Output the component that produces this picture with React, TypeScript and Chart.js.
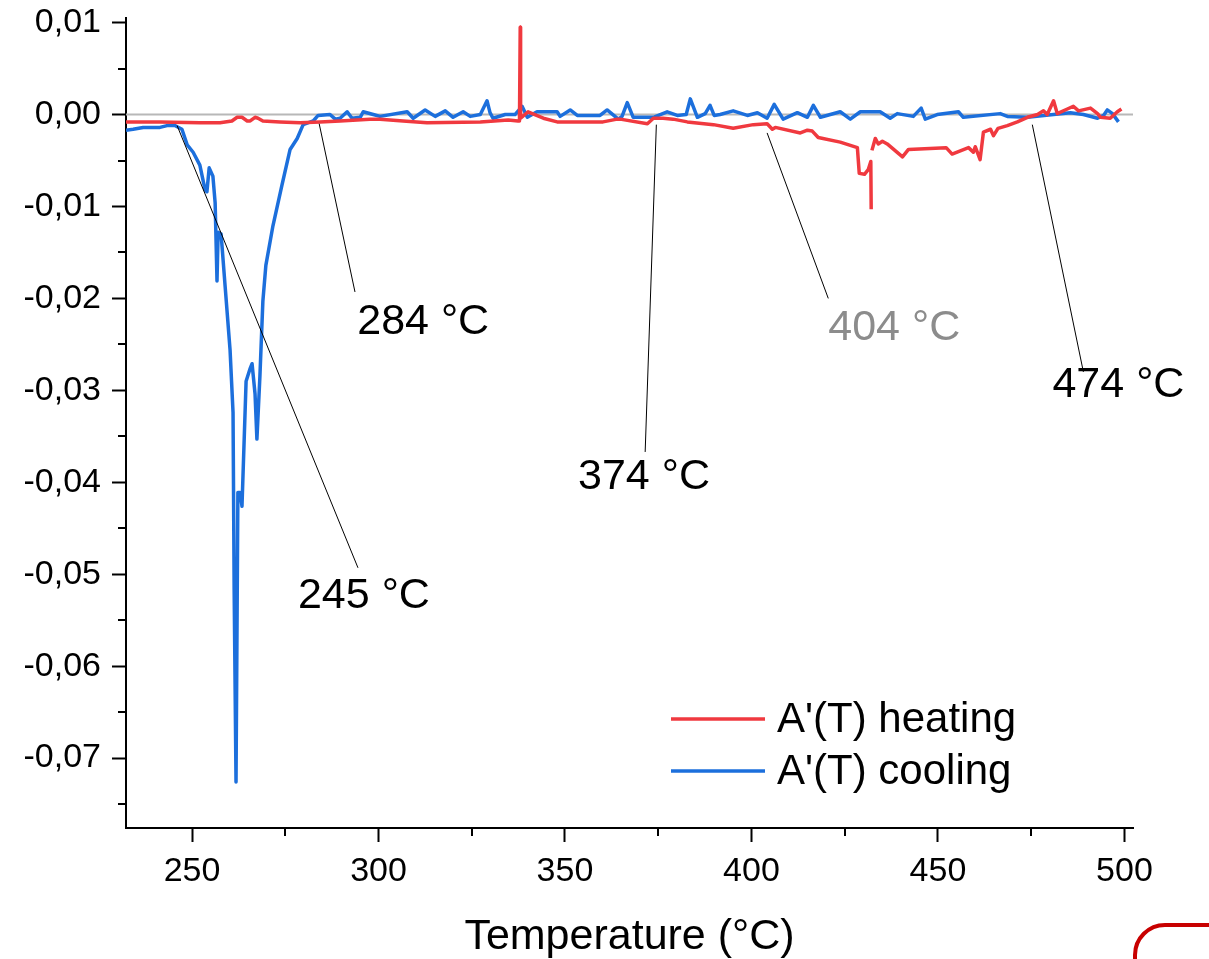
import React, { useEffect, useRef } from "react";
import { Chart, registerables } from "chart.js";

Chart.register(...registerables);

// ---- data ----
const heatT = [232.3, 241.4, 252.1, 257.5, 260.7, 262.1, 263.4, 264.8, 265.6, 266.9, 267.7, 269.0, 273.6, 279.0, 284.3, 289.7, 297.7, 300.4, 306.6, 313.0, 327.3, 334.8, 337.4, 337.8, 338.0, 338.1, 340.1, 344.2, 347.9, 360.2, 364.0, 364.8, 372.1, 373.7, 376.3, 379.0, 382.8, 389.8, 395.1, 400.5, 404.2, 405.6, 406.4, 413.1, 415.0, 416.3, 417.9, 423.8, 428.4, 428.9, 430.3, 431.3, 432.0, 432.1, 432.15, 432.3, 433.2, 434.0, 435.1, 436.4, 440.5, 442.1, 452.2, 453.8, 458.2, 459.5, 460.0, 461.3, 462.2, 464.1, 464.9, 466.1, 468.6, 471.3, 474.0, 476.7, 478.3, 479.3, 481.0, 482.0, 484.7, 486.3, 487.7, 490.9, 492.8, 493.6, 496.2, 498.1, 499.2];
const heatA = [-0.0008, -0.0008, -0.0009, -0.0009, -0.0007, -0.0003, -0.0003, -0.0007, -0.0007, -0.0003, -0.0004, -0.0007, -0.0008, -0.0009, -0.0008, -0.0007, -0.0005, -0.0005, -0.0007, -0.0009, -0.0008, -0.0006, -0.0007, -0.0007, 0.0095, -0.0004, 0.0003, -0.0004, -0.0008, -0.0008, -0.0005, -0.0005, -0.0010, -0.0004, -0.0004, -0.0005, -0.0008, -0.0011, -0.0015, -0.0011, -0.0010, -0.0016, -0.0014, -0.0020, -0.0017, -0.0018, -0.0025, -0.0030, -0.0036, -0.0064, -0.0065, -0.0060, -0.0051, -0.0103, null, -0.0039, -0.0026, -0.0032, -0.0029, -0.0032, -0.0046, -0.0038, -0.0036, -0.0043, -0.0036, -0.0041, -0.0035, -0.0049, -0.0019, -0.0016, -0.0023, -0.0015, -0.0012, -0.0008, -0.0003, 0.0000, 0.0004, 0.0000, 0.0015, 0.0001, 0.0006, 0.0009, 0.0004, 0.0007, 0.0001, -0.0003, -0.0004, 0.0003, 0.0006];

const coolT = [232.3, 234.2, 236.9, 241.4, 243.3, 245.4, 247.3, 248.7, 250.3, 252.1, 253.5, 254.0, 254.6, 255.6, 256.2, 256.7, 257.0, 257.8, 258.9, 260.2, 261.0, 261.3, 261.8, 262.3, 262.9, 263.4, 264.5, 265.6, 266.1, 266.9, 267.4, 268.2, 269.0, 269.8, 271.7, 274.1, 276.3, 278.2, 279.8, 282.5, 283.8, 287.0, 288.4, 289.7, 291.6, 292.9, 295.1, 295.9, 298.6, 300.4, 307.7, 309.3, 312.5, 315.2, 317.9, 320.0, 322.7, 324.6, 327.3, 329.1, 329.9, 330.7, 334.0, 336.6, 338.5, 339.9, 342.5, 347.9, 348.7, 351.4, 353.3, 359.4, 361.3, 364.3, 365.3, 366.7, 368.3, 373.7, 377.4, 380.1, 382.5, 383.6, 385.5, 387.6, 388.9, 390.0, 391.6, 395.1, 398.9, 401.6, 404.2, 406.1, 408.5, 412.3, 415.0, 416.6, 418.5, 423.8, 426.5, 429.2, 434.5, 437.2, 439.1, 443.4, 445.5, 446.6, 449.8, 455.5, 456.8, 466.7, 468.6, 474.0, 481.0, 485.5, 489.0, 492.8, 494.4, 495.4, 496.8, 498.4];
const coolA = [-0.0017, -0.0016, -0.0014, -0.0014, -0.0012, -0.0012, -0.0016, -0.0033, -0.0041, -0.0055, -0.0082, -0.0084, -0.0058, -0.0067, -0.0096, -0.0181, -0.0128, -0.0130, -0.0188, -0.0256, -0.0324, -0.0517, -0.0726, -0.0411, -0.0411, -0.0426, -0.0290, -0.0276, -0.0271, -0.0304, -0.0353, -0.0285, -0.0203, -0.0164, -0.0121, -0.0077, -0.0038, -0.0026, -0.0011, -0.0007, -0.0001, 0.0000, -0.0005, -0.0004, 0.0003, -0.0004, -0.0003, 0.0003, 0.0000, -0.0002, 0.0003, -0.0004, 0.0005, -0.0002, 0.0004, -0.0003, 0.0003, -0.0002, 0.0000, 0.0015, 0.0002, -0.0004, 0.0000, 0.0000, 0.0009, -0.0003, 0.0003, 0.0003, -0.0002, 0.0005, -0.0001, -0.0001, 0.0005, -0.0005, -0.0002, 0.0013, -0.0003, -0.0003, 0.0003, -0.0001, 0.0000, 0.0017, -0.0003, 0.0001, 0.0010, -0.0001, 0.0000, 0.0004, -0.0001, 0.0002, -0.0004, 0.0011, -0.0005, 0.0002, -0.0003, 0.0010, -0.0003, 0.0003, -0.0005, 0.0003, 0.0003, -0.0004, 0.0001, -0.0002, 0.0007, -0.0005, 0.0000, 0.0003, -0.0003, 0.0001, -0.0002, -0.0003, 0.0000, 0.0002, 0.0000, -0.0004, -0.0001, 0.0005, 0.0001, -0.0008];

const seriesLabels = ["A'(T) heating", "A'(T) cooling"];
const xTicks = [250, 300, 350, 400, 450, 500];
const xMinorTicks = [275, 325, 375, 425, 475];
const yTicks = [-0.07, -0.06, -0.05, -0.04, -0.03, -0.02, -0.01, 0.0, 0.01];
const yMinorTicks = [-0.075, -0.065, -0.055, -0.045, -0.035, -0.025, -0.015, -0.005, 0.005];

// callouts: label, point on curve (T, A), end of leader (T, A), text anchor (T, A)
const calloutLabels = ["245 °C", "284 °C", "374 °C", "404 °C", "474 °C"];
const calloutFromT = [246.0, 284.1, 374.5, 404.2, 475.3];
const calloutFromA = [-0.0012, -0.0010, -0.0011, -0.0020, -0.0011];
const calloutToT = [294.5, 293.7, 371.5, 420.6, 489.0];
const calloutToA = [-0.0493, -0.0193, -0.0367, -0.0200, -0.0280];
const calloutTextT = [278.4, 294.3, 353.5, 420.6, 480.7];
const calloutTextA = [-0.0537, -0.0239, -0.0407, -0.0245, -0.0307];
const calloutColors = ["#000000", "#000000", "#000000", "#8c8c8c", "#000000"];

const RED = "#f0393f";
const BLUE = "#1c6fdc";
const FONT = "Arial, 'Liberation Sans', sans-serif";

export default function App() {
  const ref = useRef<HTMLCanvasElement | null>(null);

  useEffect(() => {
    document.body.style.margin = "0";
    document.body.style.overflow = "hidden";
    const canvas = ref.current;
    if (!canvas) return;

    const heatData = heatT.map((t, i) => ({ x: t, y: heatA[i] }));
    const coolData = coolT.map((t, i) => ({ x: t, y: coolA[i] }));

    const decor = {
      id: "decor",
      beforeDatasetsDraw(chart: any) {
        const { ctx, chartArea, scales } = chart;
        const y0 = scales.y.getPixelForValue(0);
        ctx.save();
        ctx.strokeStyle = "#b8b8b8";
        ctx.lineWidth = 2;
        ctx.beginPath();
        ctx.moveTo(chartArea.left, y0);
        ctx.lineTo(chartArea.right, y0);
        ctx.stroke();
        ctx.restore();
      },
      afterDraw(chart: any) {
        const { ctx, chartArea, scales } = chart;
        const xs = scales.x;
        const ys = scales.y;
        ctx.save();
        // minor ticks
        ctx.strokeStyle = "#000";
        ctx.lineWidth = 2;
        ctx.beginPath();
        xMinorTicks.forEach((v) => {
          const px = Math.round(xs.getPixelForValue(v));
          ctx.moveTo(px, chartArea.bottom);
          ctx.lineTo(px, chartArea.bottom + 8);
        });
        yMinorTicks.forEach((v) => {
          const py = Math.round(ys.getPixelForValue(v));
          ctx.moveTo(chartArea.left - 8, py);
          ctx.lineTo(chartArea.left, py);
        });
        ctx.stroke();

        // callouts
        ctx.lineWidth = 1;
        ctx.strokeStyle = "#000";
        calloutLabels.forEach((lab, i) => {
          ctx.beginPath();
          ctx.moveTo(xs.getPixelForValue(calloutFromT[i]), ys.getPixelForValue(calloutFromA[i]));
          ctx.lineTo(xs.getPixelForValue(calloutToT[i]), ys.getPixelForValue(calloutToA[i]));
          ctx.stroke();
          ctx.font = `43px ${FONT}`;
          ctx.fillStyle = calloutColors[i];
          ctx.textAlign = "left";
          ctx.textBaseline = "alphabetic";
          ctx.fillText(lab, xs.getPixelForValue(calloutTextT[i]), ys.getPixelForValue(calloutTextA[i]));
        });

        // legend
        const colors = [RED, BLUE];
        seriesLabels.forEach((lab, i) => {
          const ly = chartArea.bottom - 109 + i * 52;
          ctx.strokeStyle = colors[i];
          ctx.lineWidth = 3.5;
          ctx.beginPath();
          ctx.moveTo(chartArea.right - 462, ly);
          ctx.lineTo(chartArea.right - 368, ly);
          ctx.stroke();
          ctx.fillStyle = "#000";
          ctx.font = `42px ${FONT}`;
          ctx.textAlign = "left";
          ctx.textBaseline = "middle";
          ctx.fillText(lab, chartArea.right - 356, ly + 1);
        });

        // cropped corner decoration at bottom right
        const W = chart.width;
        const H = chart.height;
        ctx.strokeStyle = "#c80000";
        ctx.lineWidth = 4;
        ctx.beginPath();
        ctx.moveTo(W - 74, H + 2);
        ctx.arcTo(W - 74, H - 34, W - 40, H - 34, 30);
        ctx.lineTo(W + 2, H - 34);
        ctx.stroke();
        ctx.restore();
      },
    };

    const chart = new Chart(canvas, {
      type: "line",
      data: {
        datasets: [
          {
            label: seriesLabels[0],
            data: heatData,
            borderColor: RED,
            backgroundColor: RED,
            borderWidth: 3.5,
            pointRadius: 0,
            tension: 0,
            spanGaps: false,
            borderJoinStyle: "round",
          },
          {
            label: seriesLabels[1],
            data: coolData,
            borderColor: BLUE,
            backgroundColor: BLUE,
            borderWidth: 3.5,
            pointRadius: 0,
            tension: 0,
            borderJoinStyle: "round",
          },
        ],
      },
      options: {
        animation: false,
        responsive: false,
        maintainAspectRatio: false,
        parsing: false,
        normalized: true,
        layout: { padding: { top: 18, right: 76, left: 0, bottom: 0 } },
        plugins: {
          legend: { display: false },
          tooltip: { enabled: false },
          title: { display: false },
        },
        scales: {
          x: {
            type: "linear",
            min: 232.3,
            max: 502.3,
            afterFit: (s: any) => {
              s.height = 131;
              s.paddingLeft = 0;
              s.paddingRight = 0;
            },
            afterBuildTicks: (s: any) => {
              s.ticks = xTicks.map((v) => ({ value: v }));
            },
            border: { display: true, color: "#000", width: 2 },
            grid: {
              display: true,
              drawOnChartArea: false,
              drawTicks: true,
              tickLength: 14,
              tickWidth: 2,
              tickColor: "#000",
            },
            ticks: {
              color: "#000",
              font: { family: FONT, size: 34 },
              padding: 9,
              maxRotation: 0,
              autoSkip: false,
              callback: (v: any) => String(v),
            },
            title: {
              display: true,
              text: "Temperature (°C)",
              color: "#000",
              font: { family: FONT, size: 43, lineHeight: 1.0 },
              padding: { top: 0, bottom: 0 },
            },
          },
          y: {
            type: "linear",
            min: -0.0776,
            max: 0.0105,
            afterFit: (s: any) => {
              s.width = 126;
              s.paddingTop = 0;
              s.paddingBottom = 0;
            },
            afterBuildTicks: (s: any) => {
              s.ticks = yTicks.map((v) => ({ value: v }));
            },
            border: { display: true, color: "#000", width: 2 },
            grid: {
              display: true,
              drawOnChartArea: false,
              drawTicks: true,
              tickLength: 14,
              tickWidth: 2,
              tickColor: "#000",
            },
            ticks: {
              color: "#000",
              font: { family: FONT, size: 34 },
              padding: 11,
              autoSkip: false,
              callback: (v: any) => Number(v).toFixed(2).replace(".", ","),
            },
          },
        },
      },
      plugins: [decor],
    });

    return () => chart.destroy();
  }, []);

  return (
    <div style={{ width: 1209, height: 959, position: "relative", background: "#fff" }}>
      <canvas ref={ref} width={1209} height={959} style={{ display: "block" }} />
    </div>
  );
}
